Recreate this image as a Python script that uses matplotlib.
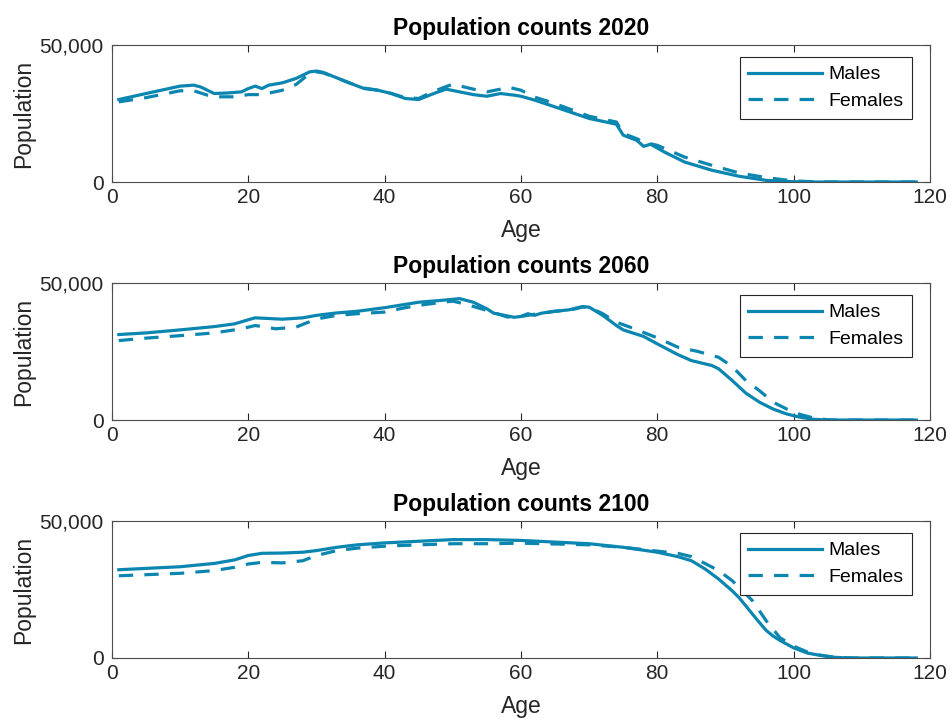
import numpy as np
import matplotlib
matplotlib.use("Agg")
import matplotlib.pyplot as plt
from matplotlib.ticker import FuncFormatter

plt.rcParams['font.family'] = ['Liberation Sans', 'DejaVu Sans']

# ------------------------------------------------------------
# data (age, population)
# ------------------------------------------------------------
years = [2020, 2060, 2100]

m2020_age = [1, 5, 10, 12, 13, 15, 17, 19, 20, 21, 22, 23, 25, 27, 29, 30, 31, 33, 35,
             37, 39, 41, 43, 45, 47, 49, 51, 53, 55, 57, 59, 60, 62, 65, 70, 74, 75,
             77, 78, 79, 81, 84, 88, 92, 96, 100, 104, 118]
m2020_pop = [30100, 32300, 35000, 35350, 34700, 32300, 32500, 32900, 34100, 35000, 34100,
             35350, 36200, 37800, 40200, 40500, 40000, 38000, 36000, 34100, 33500, 32300,
             30500, 30100, 32100, 33900, 32900, 31900, 31300, 32300, 31700, 31300, 29900,
             27400, 23200, 21100, 17100, 15200, 13000, 13800, 11000, 7300, 4300, 2100,
             600, 100, 0, 0]
f2020_age = [1, 5, 10, 12, 14, 15, 18, 20, 22, 25, 27, 29, 30, 31, 33, 35, 37, 39, 41,
             43, 45, 47, 49, 50, 53, 55, 57, 58, 60, 62, 65, 70, 74, 75, 77, 78, 80,
             84, 88, 92, 96, 100, 104, 118]
f2020_pop = [29250, 30800, 33300, 33300, 31700, 31100, 31100, 31900, 31900, 33500, 35600,
             39600, 40200, 39800, 38000, 36000, 34300, 33500, 32300, 30800, 30500, 32900,
             34800, 35700, 33900, 32900, 33900, 34700, 33500, 31000, 28600, 24000, 21900,
             17700, 15800, 14500, 13400, 9100, 6100, 3300, 1600, 400, 0, 0]

m2060_age = [1, 5, 10, 15, 18, 20, 21, 25, 28, 30, 33, 36, 40, 42, 45, 48, 51, 53, 55,
             56, 59, 60, 61, 62, 63, 65, 67, 69, 70, 72, 74, 75, 78, 80, 83, 85, 88,
             89, 91, 93, 95, 97, 99, 101, 103, 105, 118]
m2060_pop = [31200, 31800, 32900, 34100, 35100, 36600, 37300, 36800, 37300, 38200, 39100,
             39700, 41000, 41800, 43000, 43600, 44300, 43000, 40600, 39000, 37500, 37800,
             38800, 38200, 39000, 39700, 40200, 41400, 41200, 38200, 34500, 32900, 30500,
             27800, 23900, 21700, 19900, 18700, 14400, 9800, 6500, 4000, 2200, 1000, 250,
             0, 0]
f2060_age = [1, 5, 10, 15, 19, 21, 24, 27, 30, 33, 36, 40, 43, 46, 50, 52, 55, 58, 60,
             62, 65, 67, 69, 70, 72, 74, 76, 80, 83, 86, 89, 91, 93, 95, 97, 99, 101,
             103, 105, 107, 118]
f2060_pop = [29000, 29900, 30800, 31800, 33300, 34500, 33300, 33900, 36900, 38200, 38800,
             39400, 41000, 42200, 43400, 42200, 40000, 37600, 37800, 38600, 39700, 40000,
             41200, 41200, 38800, 35700, 33900, 30000, 26600, 25000, 22900, 19500, 14400,
             10700, 6500, 4000, 2000, 700, 100, 0, 0]

m2100_age = [1, 5, 10, 15, 18, 20, 22, 25, 28, 30, 33, 36, 40, 45, 50, 55, 60, 65, 70,
             75, 80, 83, 85, 87, 89, 91, 92, 93, 94, 95, 96, 97, 98, 100, 102, 104, 106,
             108, 118]
m2100_pop = [32200, 32700, 33300, 34500, 35800, 37400, 38200, 38300, 38600, 39200, 40400,
             41300, 42000, 42600, 43200, 43200, 42900, 42300, 41700, 40400, 38600, 37000,
             35500, 32500, 28800, 24500, 22000, 19000, 15900, 12900, 10000, 8000, 6400,
             3700, 1800, 900, 250, 0, 0]
f2100_age = [1, 5, 10, 15, 18, 20, 22, 25, 28, 30, 33, 36, 40, 45, 50, 55, 60, 70, 75,
             80, 83, 85, 87, 89, 91, 93, 94, 96, 98, 100, 102, 104, 106, 109, 118]
f2100_pop = [30000, 30400, 30900, 31900, 33100, 34300, 34900, 34700, 35500, 37400, 39200,
             40100, 40800, 41300, 41700, 41700, 41900, 41300, 40400, 39000, 38200, 37000,
             34500, 31900, 28200, 23300, 20800, 13500, 7400, 4300, 2200, 1000, 250, 0, 0]

males = [(m2020_age, m2020_pop), (m2060_age, m2060_pop), (m2100_age, m2100_pop)]
females = [(f2020_age, f2020_pop), (f2060_age, f2060_pop), (f2100_age, f2100_pop)]

# ------------------------------------------------------------
# figure
# ------------------------------------------------------------
color = '#0b86b0'
axcol = '#262626'
fig = plt.figure(figsize=(9.53, 7.18), dpi=100)

bottoms = [0.7465, 0.415, 0.0836]
for i, yr in enumerate(years):
    ax = fig.add_axes([0.1175, bottoms[i], 0.8583, 0.1908])
    ax.plot(*males[i], color=color, lw=2.3, label='Males')
    ax.plot(*females[i], color=color, lw=2.3, ls=(0, (4.5, 3.5)), label='Females')

    ax.set_xlim(0, 120)
    ax.set_ylim(0, 50000)
    ax.set_xticks(np.arange(0, 121, 20))
    ax.set_yticks([0, 50000])
    ax.yaxis.set_major_formatter(FuncFormatter(lambda v, p: f'{int(v):,}'))
    ax.tick_params(direction='in', top=True, right=True, length=5, width=0.8,
                   labelsize=15, colors=axcol)
    ax.tick_params(axis='x', pad=4)
    ax.tick_params(axis='y', pad=6)
    for s in ax.spines.values():
        s.set_color('#4d4d4d')
        s.set_linewidth(0.8)

    ax.set_title(f'Population counts {yr}', fontsize=16.5, fontweight='bold', pad=7)
    ax.set_xlabel('Age', fontsize=16.5, color=axcol, labelpad=9)
    ax.set_ylabel('Population', fontsize=16.5, color=axcol, labelpad=3)

    leg = ax.legend(loc='upper right', bbox_to_anchor=(0.978, 0.912), borderaxespad=0,
                    fontsize=14, fancybox=False, framealpha=1, edgecolor='#262626',
                    handlelength=3.8, handletextpad=0.3, labelspacing=0.45,
                    borderpad=0.45)
    leg.get_frame().set_linewidth(0.8)

fig.savefig('out.png', dpi=100)
